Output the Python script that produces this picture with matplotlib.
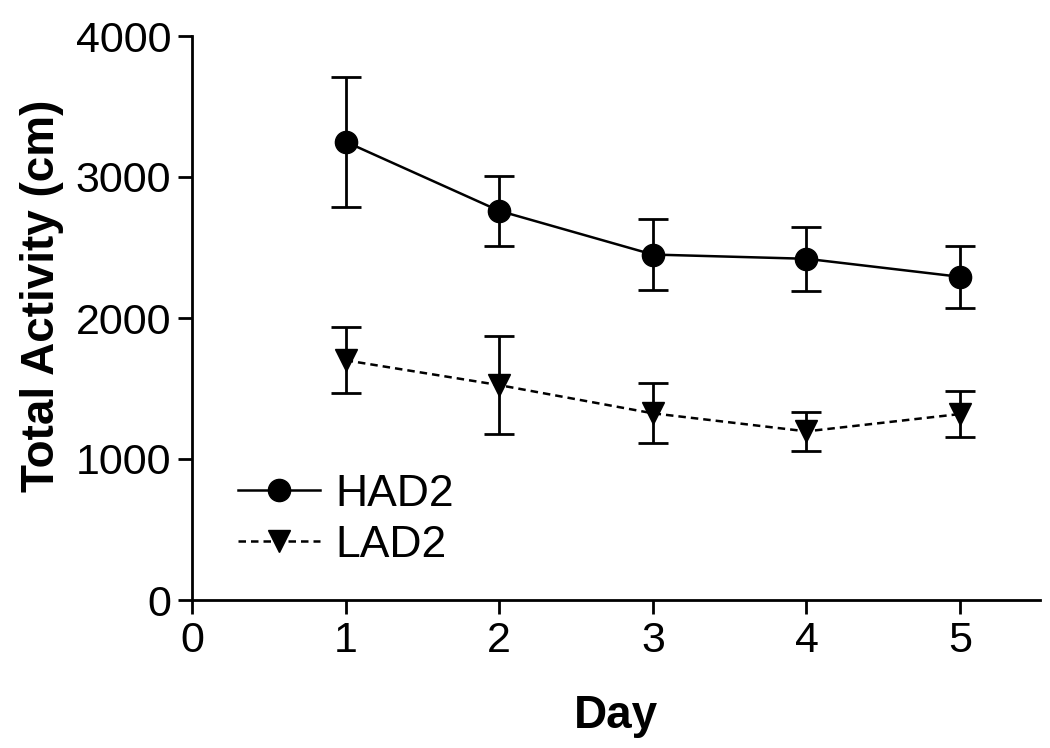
import numpy as np
import matplotlib
matplotlib.use("Agg")
from matplotlib import pyplot as plt

plt.rcParams['font.family'] = ['Liberation Sans', 'DejaVu Sans']

days = [1, 2, 3, 4, 5]
had2 = [3250, 2760, 2450, 2420, 2292]
had2_err = [460, 248, 249, 228, 219]
lad2 = [1700, 1524, 1324, 1196, 1319]
lad2_err = [234, 349, 213, 137, 165]

fig = plt.figure(figsize=(10.5, 7.48), dpi=100)
ax = fig.add_axes([192 / 1050, 148 / 748, 848 / 1050, 564 / 748])

ax.errorbar(days, had2, yerr=had2_err, color='black', lw=1.8, marker='o',
            markersize=16, capsize=11, capthick=2, elinewidth=2, label='HAD2')
ax.errorbar(days, lad2, yerr=lad2_err, color='black', lw=1.8, ls=(0, (3, 2)),
            marker='v', markersize=16, capsize=11, capthick=2, elinewidth=2,
            label='LAD2')

ax.set_xlim(0, 5.52)
ax.set_ylim(0, 4000)
ax.set_xticks([0, 1, 2, 3, 4, 5])
ax.set_yticks([0, 1000, 2000, 3000, 4000])
ax.spines['top'].set_visible(False)
ax.spines['right'].set_visible(False)
ax.spines['left'].set_linewidth(2)
ax.spines['bottom'].set_linewidth(2)
ax.tick_params(direction='out', length=10, width=2, labelsize=31, pad=5)

ax.set_xlabel('Day', fontsize=33, fontweight='bold', labelpad=24)
ax.set_ylabel('Total Activity (cm)', fontsize=33, fontweight='bold')
ax.yaxis.set_label_coords(-0.151, 0.539)

handles, labels = ax.get_legend_handles_labels()
handles = [h[0] for h in handles]
ax.legend(handles, labels, loc='upper left', bbox_to_anchor=(238 / 1050, 1 - 474 / 748),
          bbox_transform=fig.transFigure, frameon=False, fontsize=32,
          handlelength=1.85, handletextpad=0.34, labelspacing=0.22,
          borderpad=0, borderaxespad=0)

fig.savefig('out.png', dpi=100)
